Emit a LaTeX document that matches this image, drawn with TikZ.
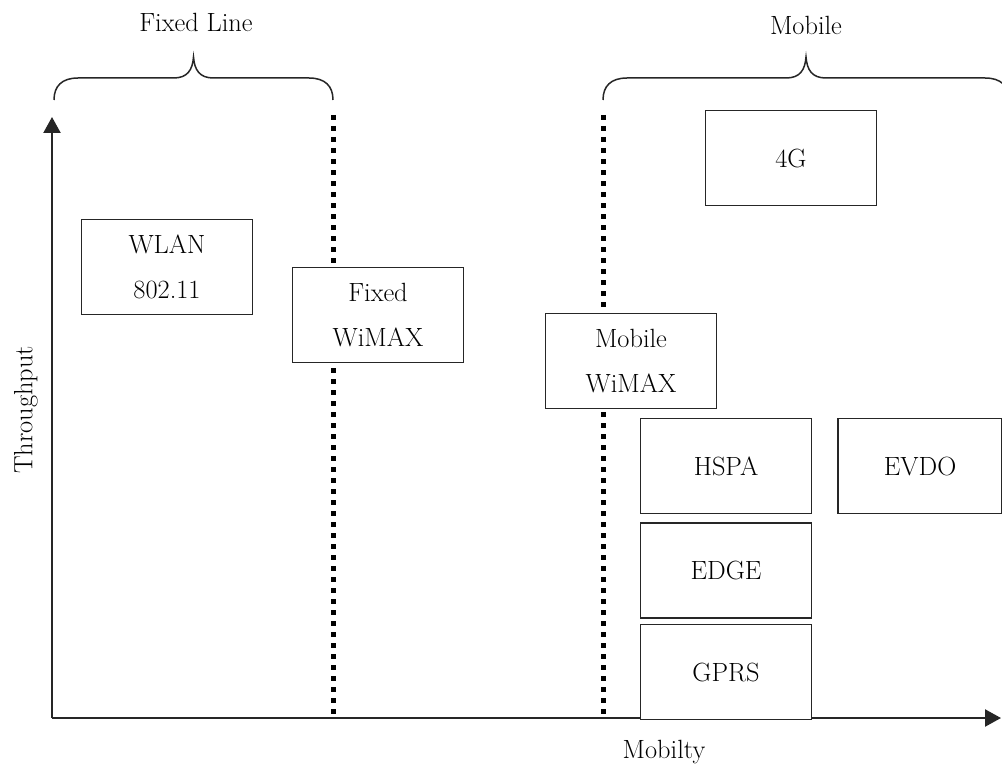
\documentclass[tikz,border=0pt]{standalone}
\usepackage{tikz}
\usetikzlibrary{arrows.meta,positioning}
\tikzset{
  techbox/.style={draw=black!85, line width=0.3mm, fill=white, minimum width=34.2mm, minimum height=19mm, inner sep=0pt, align=center, font=\fontsize{15}{25.6}\selectfont},
  axisline/.style={draw=black!85, line width=0.45mm, -{Triangle[length=3.2mm,width=3.4mm]}},
  dotline/.style={line width=1mm, dash pattern=on 1mm off 1.2mm},
  bracestroke/.style={draw=black!85, line width=0.3mm},
  caption/.style={font=\fontsize{15}{18}\selectfont}
}
\newcommand{\groupbrace}[2]{%
  \draw[bracestroke] (#1,100) .. controls (#1,86) and ({#1+8},78) .. ({#1+24},78)
    -- ({(#1+#2)/2-20},78) .. controls ({(#1+#2)/2-6},78) and ({(#1+#2)/2-1},70) .. ({(#1+#2)/2},57)
    .. controls ({(#1+#2)/2+1},70) and ({(#1+#2)/2+6},78) .. ({(#1+#2)/2+20},78)
    -- ({#2-24},78) .. controls ({#2-8},78) and (#2,86) .. (#2,100);}

\begin{document}
\begin{tikzpicture}[x=0.2mm,y=-0.2mm]
\useasboundingbox (0,0) rectangle (1002,772);
\node[caption] (fixedlabel) at (196,22) {Fixed Line};
\node[caption] (mobilelabel) at (806,25) {Mobile};
\groupbrace{54}{333}
\groupbrace{603}{1009}
\coordinate (fixtop) at (333,115);
\coordinate (fixbot) at (333,718);
\coordinate (mobtop) at (603,115);
\coordinate (mobbot) at (603,718);
\draw[dotline] (fixtop) -- (fixbot);
\draw[dotline] (mobtop) -- (mobbot);
\coordinate (origin) at (52,718);
\coordinate (ytip) at (52,117);
\coordinate (xtip) at (1001,718);
\draw[axisline] (origin) -- (ytip);
\draw[axisline] (origin) -- (xtip);
\node[caption, rotate=90] (ylabel) at (26,410) {Throughput};
\node[caption] (xlabel) at (664,752) {Mobilty};
\node[techbox] (wlan) at (167,267) {WLAN\\802.11};
\node[techbox] (fixedwimax) at (378,315) {Fixed\\WiMAX};
\node[techbox] (mobilewimax) at (631,361) {Mobile\\WiMAX};
\node[techbox] (fourg) at (791,158) {4G};
\node[techbox] (hspa) at (726,466) {HSPA};
\node[techbox, below=1.6mm of hspa] (edge) {EDGE};
\node[techbox, below=1mm of edge] (gprs) {GPRS};
\node[techbox, minimum width=32.8mm, right=5mm of hspa] (evdo) {EVDO};
\end{tikzpicture}
\end{document}
